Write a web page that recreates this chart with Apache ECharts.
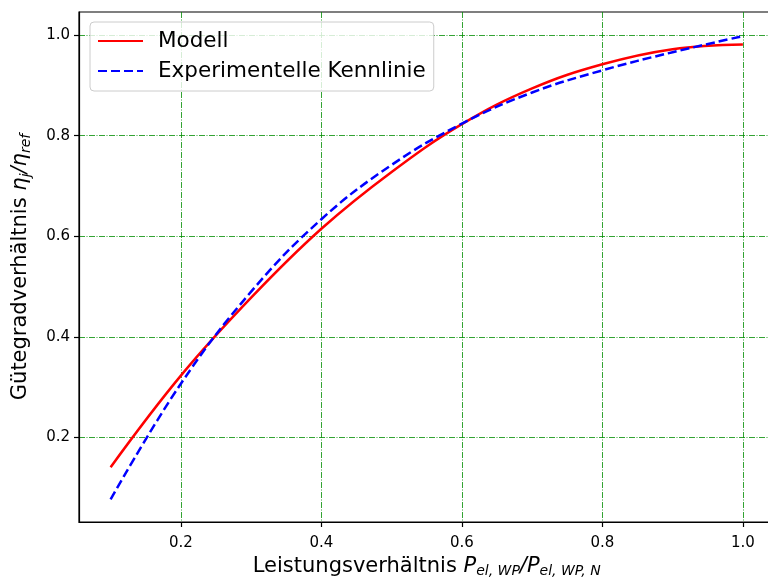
<!DOCTYPE html>
<html>
<head>
<meta charset="utf-8">
<script src="https://cdn.jsdelivr.net/npm/echarts@6/dist/echarts.min.js"></script>
<style>html,body{margin:0;padding:0;background:#fff;overflow:hidden;}#c{width:768px;height:578px;}</style>
</head>
<body>
<div id="c"></div>
<script>
const xValues = [0.1, 0.2, 0.3, 0.4, 0.5, 0.6, 0.7, 0.8, 0.9, 1.0];
const modellValues = [0.141, 0.323, 0.478, 0.615, 0.728, 0.823, 0.894, 0.942, 0.972, 0.9815];
const kennlinieValues = [0.077, 0.307, 0.490, 0.634, 0.742, 0.824, 0.886, 0.930, 0.966, 0.998];
const xTicks = [0.2, 0.4, 0.6, 0.8, 1.0];
const yTicks = [0.2, 0.4, 0.6, 0.8, 1.0];
const seriesNames = ['Modell', 'Experimentelle Kennlinie'];

const FONT = 'DejaVu Sans';
const gridLine = {show: true, lineStyle: {color: 'rgba(0,140,0,0.8)', width: 1, type: [6, 1.5, 1, 1.5]}};
const rich = {
  n: {fontFamily: FONT, fontSize: 21, color: '#000'},
  i: {fontFamily: FONT, fontSize: 21, fontStyle: 'italic', color: '#000'},
  s: {fontFamily: FONT, fontSize: 14, fontStyle: 'italic', color: '#000', padding: [10, 0, 0, 0]}
};

const chart = echarts.init(document.getElementById('c'), null, {renderer: 'canvas'});
chart.setOption({
  animation: false,
  backgroundColor: '#fff',
  grid: {left: 79, top: 12, width: 695.5, height: 510, show: true, borderColor: '#000', borderWidth: 1.2,
         containLabel: false, outerBoundsMode: 'none'},
  legend: {
    orient: 'vertical', left: 90, top: 22,
    data: seriesNames,
    itemWidth: 45, itemHeight: 14, itemGap: 8,
    padding: [8, 8, 9, 7],
    backgroundColor: 'rgba(255,255,255,0.8)',
    borderColor: '#cccccc', borderWidth: 1, borderRadius: 4,
    itemStyle: {opacity: 0},
    textStyle: {fontFamily: FONT, fontSize: 21.5, color: '#000', padding: [0, 0, 0, 10]}
  },
  xAxis: {
    type: 'value', min: 0.055, max: 1.045,
    name: '{n|Leistungsverhältnis }{i|P}{s|el, WP}{i|/P}{s|el, WP, N}',
    nameLocation: 'middle', nameGap: 30,
    nameTextStyle: {rich: rich},
    axisLine: {show: true, onZero: false, lineStyle: {color: '#000', width: 1.2}},
    axisTick: {show: true, length: 5, inside: false, customValues: xTicks, lineStyle: {color: '#000', width: 1.2}},
    axisLabel: {customValues: xTicks, margin: 14, fontFamily: FONT, fontSize: 15, color: '#000', formatter: v => v.toFixed(1)},
    splitLine: gridLine
  },
  yAxis: {
    type: 'value', min: 0.032, max: 1.046,
    name: '{n|Gütegradverhältnis }{i|η}{s|j}{i|/η}{s|ref}',
    nameLocation: 'middle', nameGap: 46, nameRotate: 90,
    nameTextStyle: {rich: rich},
    axisLine: {show: true, onZero: false, lineStyle: {color: '#000', width: 1.2}},
    axisTick: {show: true, length: 5, inside: false, customValues: yTicks, lineStyle: {color: '#000', width: 1.2}},
    axisLabel: {customValues: yTicks, margin: 9, fontFamily: FONT, fontSize: 15, color: '#000', formatter: v => v.toFixed(1)},
    splitLine: gridLine
  },
  series: [
    {
      name: seriesNames[0], type: 'line', symbol: 'none', smooth: 0.4,
      data: xValues.map((x, k) => [x, modellValues[k]]),
      lineStyle: {color: '#ff0000', width: 2.5, type: 'solid'},
      itemStyle: {color: '#ff0000'}
    },
    {
      name: seriesNames[1], type: 'line', symbol: 'none', smooth: 0.4,
      data: xValues.map((x, k) => [x, kennlinieValues[k]]),
      lineStyle: {color: '#0000ff', width: 2.5, type: [9, 4]},
      itemStyle: {color: '#0000ff'}
    }
  ]
});
</script>
</body>
</html>
